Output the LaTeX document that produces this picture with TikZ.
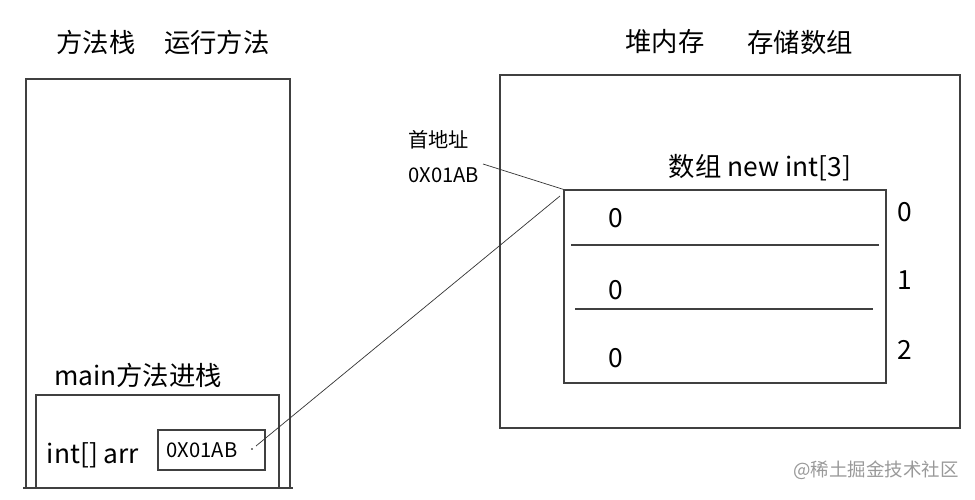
\documentclass[tikz,border=0pt]{standalone}
\usepackage{fontspec}
\setmainfont{Noto Sans CJK SC}
\tikzset{
  big/.style={font=\fontsize{15}{17}\selectfont},
  small/.style={font=\fontsize{11.5}{13}\selectfont},
  frame/.style={draw=black!75,line width=0.7pt},
  link/.style={draw=black!80,line width=0.4pt}
}
\begin{document}
\begin{tikzpicture}[x=0.02cm,y=-0.02cm]
        \useasboundingbox (0,0) rectangle (975,500);
        % method stack
        \draw (96,42) node[big] (ST) {方法栈};
        \draw (217,42) node[big] (RUN) {运行方法};
        \draw[frame] (26,488) -- (26,79) -- (290,79) -- (290,488);
        \draw[frame] (23,488) -- (293,488);
        \draw (138,375) node[big] (MAIN) {main方法进栈};
        \draw[frame] (36,488) -- (36,395) -- (279,395) -- (279,488);
        \draw (93,455) node[big] (ARRV) {int[] arr};
        \draw (211.5,450) node[frame,small,minimum width=2.14cm,minimum height=0.8cm,text width=1.8cm] (ADR) {0X01AB};
        % heap
        \draw (665,42) node[big] (HEAP) {堆内存};
        \draw (800,43) node[big] (STORE) {存储数组};
        \draw (730,251.5) node[frame,minimum width=9.2cm,minimum height=7.06cm] (H) {};
        \draw (402,140) node[small,anchor=west] (FIRST) {首地址};
        \draw (402,175) node[small,anchor=west] (FADR) {0X01AB};
        \draw (760,168) node[big] (ARRT) {数组 new int[3]};
        \draw (725,286.5) node[frame,minimum width=6.44cm,minimum height=3.86cm] (ARR) {};
        \draw[frame] (571,245) -- (879,245);
        \draw[frame] (575,309) -- (873,309);
        \draw (616,218) node[big] (V0) {0};
        \draw (616,290) node[big] (V1) {0};
        \draw (616,358) node[big] (V2) {0};
        \draw (905,212) node[big] (I0) {0};
        \draw (905,280) node[big] (I1) {1};
        \draw (905,350) node[big] (I2) {2};
        % links
        \coordinate (P) at (256,446);
        \coordinate (Q) at (560,196);
        \coordinate (R) at (483,164);
        \fill (252,449) circle (0.5pt);
        \draw[link] (P) -- (Q);
        \draw[link] (R) -- (ARR.north west);
        \draw (876,470) node[small,font=\fontsize{10.5}{12}\selectfont,text=black!40] (WM) {@稀土掘金技术社区};
\end{tikzpicture}
\end{document}
